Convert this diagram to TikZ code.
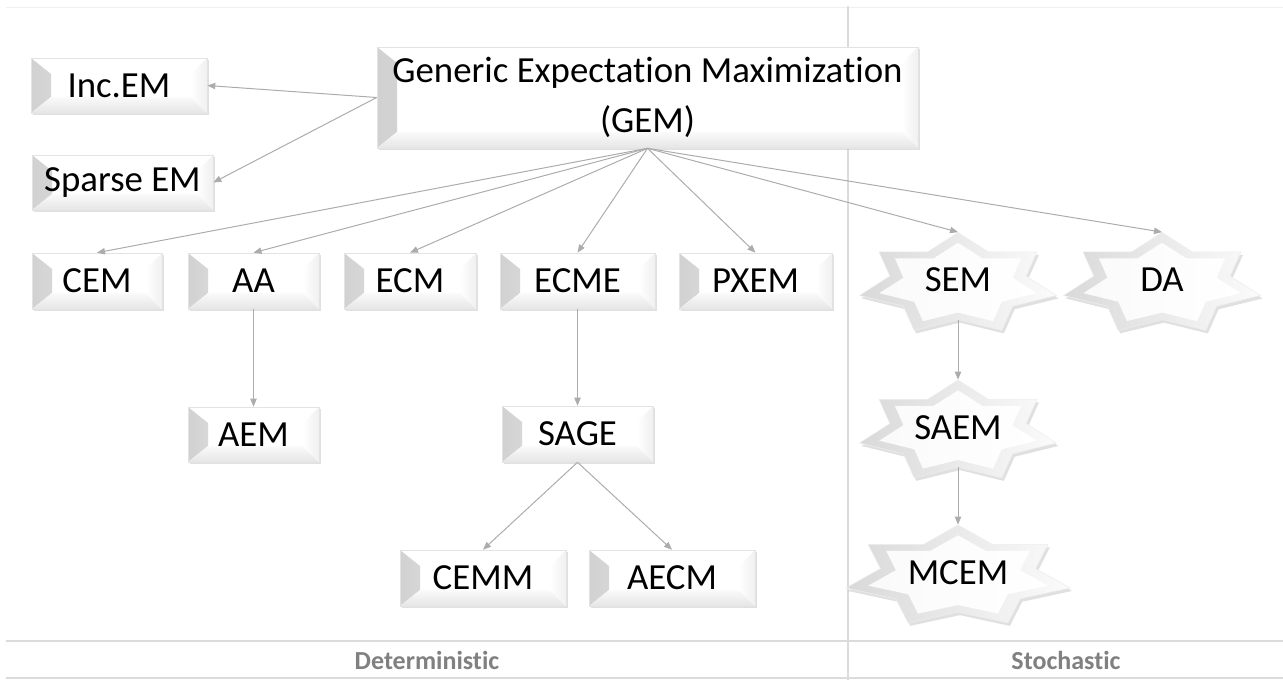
\documentclass[tikz,border=0pt]{standalone}
\usepackage{fontspec}
\setmainfont{Carlito}[Ligatures=NoCommon]
\usetikzlibrary{arrows.meta,shadows,calc}

% seven-pointed star outline around (cx,cy) with radii rx, ry (y grows downwards)
\newcommand\starpoly[4]{(#1,{#2-(#4)}) \foreach \k [evaluate=\k as \r using {mod(\k,2)==0 ? 1 : 0.692}] in {1,...,13} { -- ({#1+\r*(#3)*sin(\k*180/7)},{#2-\r*(#4)*cos(\k*180/7)}) } -- cycle}

% bevelled star: shadow, shaded rim and light inner face
\newcommand\bevstar[4]{%
  \fill[black,opacity=0.12] \starpoly{#1+2}{#2+3}{#3}{#4};
  \shadedraw[left color=gray!30,right color=gray!3,draw=gray!14,line width=0.3pt] \starpoly{#1}{#2}{#3}{#4};
  \shade[left color=gray!4,right color=white] \starpoly{#1}{#2}{0.8*#3}{0.8*#4};
}

\tikzset{
  px/.style 2 args={minimum width=#1*0.5pt, minimum height=#2*0.5pt},
  bevbox/.style={rectangle, inner sep=0pt, fill=white, draw=gray!22, line width=0.3pt,
    font=\fontsize{18.4}{25}\selectfont, align=center,
    drop shadow={shadow xshift=0.9pt, shadow yshift=-1pt, opacity=0.3, fill=gray!80},
    path picture={
      \shade[left color=gray!36,right color=gray!4]
        let \p1=(path picture bounding box.south west), \p2=(path picture bounding box.north east) in
        (\x1,\y1) -- (\x1,\y2) -- (\x1+10pt,\y2-8pt) -- (\x1+10pt,\y1+8pt) -- cycle;
      \shade[top color=gray!4,bottom color=gray!20]
        let \p1=(path picture bounding box.south west), \p2=(path picture bounding box.north east) in
        (\x1,\y1) -- (\x2,\y1) -- (\x2-8pt,\y1+8pt) -- (\x1+10pt,\y1+8pt) -- cycle;
      \shade[left color=white,right color=gray!12]
        let \p1=(path picture bounding box.south west), \p2=(path picture bounding box.north east) in
        (\x2,\y1) -- (\x2,\y2) -- (\x2-8pt,\y2-8pt) -- (\x2-8pt,\y1+8pt) -- cycle;
    }},
  starfont/.style={font=\fontsize{18.4}{22}\selectfont},
  starlabel/.style={rectangle, inner sep=0pt, label={[starfont,yshift=-2pt]center:#1}},
  conn/.style={draw=gray!65, line width=0.5pt, -{Triangle[length=4pt,width=3.2pt]}},
  rule/.style={draw=gray!28, line width=1.2pt},
  column/.style={font=\fontsize{13}{15}\selectfont\bfseries, text=black!50},
}

\begin{document}
\begin{tikzpicture}[x=0.5pt,y=-0.5pt]
\useasboundingbox (0,0) rectangle (1283,680);

% table rules
\draw[gray!12,line width=0.5pt] (6,7) -- (1283,7);
\draw[rule] (848,6) -- (848,680);
\draw[rule] (6,641) -- (1283,641);
\draw[rule] (6,678) -- (1283,678);
\node[column] (detlabel) at (427,660) {Deterministic};
\node[column] (stolabel) at (1066,660) {Stochastic};

% deterministic variants
\node[bevbox,px={176}{55}] (IncEM) at (119,85.5) {Inc.EM};
\node[bevbox,px={181}{55}] (Sparse) at (122.5,182.5) {Sparse EM};
\node[bevbox,px={541}{101}] (GEM) at (647.5,97.5) {Generic Expectation Maximization\\(GEM)};
\node[bevbox,px={130}{56}] (CEM) at (97,281) {CEM};
\node[bevbox,px={131}{56}] (AA) at (253.5,281) {AA};
\node[bevbox,px={132}{56}] (ECM) at (410,281) {ECM};
\node[bevbox,px={155}{56}] (ECME) at (577.5,281) {ECME};
\node[bevbox,px={153}{56}] (PXEM) at (755.5,281) {PXEM};
\node[bevbox,px={131}{55}] (AEM) at (253.5,434.5) {AEM};
\node[bevbox,px={151}{56}] (SAGE) at (577.5,434) {SAGE};
\node[bevbox,px={166}{56}] (CEMM) at (483,578) {CEMM};
\node[bevbox,px={166}{56}] (AECM) at (672,578) {AECM};

% stochastic variants
\bevstar{958}{284}{101}{51.5}
\bevstar{1162}{284}{101}{51.5}
\bevstar{958}{431.5}{101}{51.5}
\bevstar{958}{576.5}{115}{51.5}
\node[starlabel=SEM,px={197}{87}] (SEM) at (958,276) {};
\node[starlabel=DA,px={197}{87}] (DA) at (1162,276) {};
\node[starlabel=SAEM,px={197}{87}] (SAEM) at (958,423.5) {};
\node[starlabel=MCEM,px={224}{87}] (MCEM) at (958,568.5) {};

% connectors
\draw[conn] (GEM.west) -- (IncEM.east);
\draw[conn] (GEM.west) -- (Sparse.east);
\foreach \t in {CEM,AA,ECM,ECME,PXEM,SEM,DA}
  \draw[conn] (GEM.south) -- (\t.north);
\draw[conn] (AA.south) -- (AEM.north);
\draw[conn] (ECME.south) -- (SAGE.north);
\draw[conn] (SAGE.south) -- (CEMM.north);
\draw[conn] (SAGE.south) -- (AECM.north);
\draw[conn] (SEM.south) -- (SAEM.north);
\draw[conn] (SAEM.south) -- (MCEM.north);
\end{tikzpicture}
\end{document}
